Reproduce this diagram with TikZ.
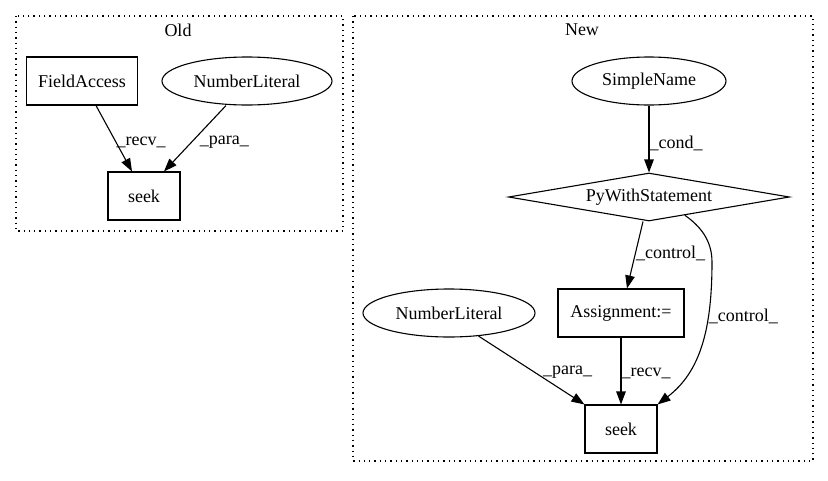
\documentclass[tikz,border=0pt]{standalone}
\usepackage{fontspec}
\setmainfont{Liberation Serif}
\usetikzlibrary{arrows.meta,shapes.geometric}
\begin{document}
\begin{tikzpicture}[x=1pt,y=-1pt,line width=1.1pt,font=\fontsize{18}{21}\selectfont,
  box/.style={draw,rectangle,minimum height=48pt,inner sep=1pt},
  oval/.style={draw,ellipse,minimum height=48pt,inner sep=1pt},
  test/.style={draw,diamond,aspect=5.85,minimum width=281pt,minimum height=48pt,inner sep=1pt},
  cluster/.style={line width=1.1pt,dash pattern=on 1.3pt off 4pt},
  edge/.style={-{Triangle[length=13pt,width=9.5pt]}},
  lbl/.style={anchor=west,inner sep=0pt}]
\useasboundingbox(0,0)rectangle(828,480);
% clusters
\draw[cluster](16,16)rectangle(343,231);
\node(old) at(178,30){Old};
\draw[cluster](353,16)rectangle(813,461);
\node(new) at(582,30){New};
% old
\node[box,minimum width=111pt](fa) at(82,81){FieldAccess};
\node[oval,minimum width=170pt](nl1) at(247,81){NumberLiteral};
\node[box,minimum width=72pt](sk1) at(144,196){seek};
\draw[edge]([xshift=14pt]fa.south)--([xshift=-12pt]sk1.north)node[lbl,pos=0.56]{\_recv\_};
\draw[edge]([xshift=-21pt]nl1.south)--([xshift=20pt]sk1.north)node[lbl,pos=0.56,xshift=8pt]{\_para\_};
% new
\node[oval,minimum width=154pt](sn) at(649,81){SimpleName};
\node[test](pw) at(649,197){PyWithStatement};
\node[box,minimum width=126pt](asg) at(621,313){Assignment:=};
\node[oval,minimum width=172pt](nl2) at(449,313){NumberLiteral};
\node[box,minimum width=72pt](sk2) at(621,429){seek};
\draw[edge](sn.south)--(pw.north)node[lbl,pos=0.56]{\_cond\_};
\draw[edge]([xshift=-6pt]pw.south)--([xshift=6pt]asg.north)node[lbl,pos=0.47]{\_control\_};
\draw[edge](pw.-27)..controls(700,226)and(712,240)..(712,262)
  ..controls(712,330)and(700,372)..(sk2.north east)node[lbl,pos=0.3]{\_control\_};
\draw[edge](nl2.-38)--(sk2.north west)node[lbl,pos=0.53,xshift=8pt]{\_para\_};
\draw[edge](asg.south)--(sk2.north)node[lbl,pos=0.53]{\_recv\_};
\end{tikzpicture}
\end{document}
